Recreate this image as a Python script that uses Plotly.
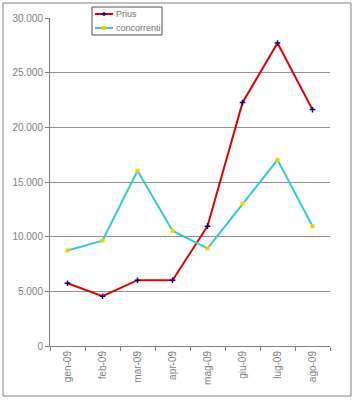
import plotly.graph_objects as go

months = ["gen-09", "feb-09", "mar-09", "apr-09", "mag-09", "giu-09", "lug-09", "ago-09"]
prius = [5740, 4550, 6020, 6020, 10960, 22260, 27720, 21620]
concorrenti = [8740, 9630, 16030, 10540, 8930, 13020, 17030, 10960]
y_ticks = [0, 5000, 10000, 15000, 20000, 25000, 30000]
series_names = ["Prius", "concorrenti"]

W, H = 354, 400
L, R, T, B = 50, 24, 18, 54
pw, ph = W - L - R, H - T - B

RED, CYAN, NAVY, GOLD = "#DD0000", "#33CCCC", "#000080", "#FFCC00"

def px(x):
    return (x - L) / pw

def py(y):
    return (H - B - y) / ph

fig = go.Figure()
fig.add_trace(go.Scatter(
    x=months, y=prius, name=series_names[0], mode="lines+markers",
    line=dict(color=RED, width=2),
    marker=dict(symbol="cross-thin", size=4, color=NAVY,
                line=dict(color=NAVY, width=1.5)),
    showlegend=False,
))
fig.add_trace(go.Scatter(
    x=months, y=concorrenti, name=series_names[1], mode="lines+markers",
    line=dict(color=CYAN, width=2),
    marker=dict(symbol="square", size=4, color=GOLD),
    showlegend=False,
))

shapes = [dict(
    type="rect", xref="paper", yref="paper",
    x0=px(3), x1=px(351), y0=py(396), y1=py(3),
    line=dict(color="#808080", width=1), fillcolor="rgba(0,0,0,0)",
    layer="below",
)]
# custom legend box
shapes.append(dict(type="rect", xref="paper", yref="paper",
                   x0=px(92), x1=px(162), y0=py(35), y1=py(7),
                   line=dict(color="#505050", width=1), fillcolor="white"))
annotations = []
for i, (name, lc, mc) in enumerate(zip(series_names, [RED, CYAN], [NAVY, GOLD])):
    yy = 14 + i * 14
    shapes.append(dict(type="line", xref="paper", yref="paper",
                       x0=px(95), x1=px(113), y0=py(yy), y1=py(yy),
                       line=dict(color=lc, width=2)))
    if i == 0:
        shapes.append(dict(type="line", xref="paper", yref="paper",
                           x0=px(102), x1=px(106), y0=py(yy), y1=py(yy),
                           line=dict(color=mc, width=1.5)))
        shapes.append(dict(type="line", xref="paper", yref="paper",
                           x0=px(104), x1=px(104), y0=py(yy - 2), y1=py(yy + 2),
                           line=dict(color=mc, width=1.5)))
    else:
        shapes.append(dict(type="rect", xref="paper", yref="paper",
                           x0=px(102), x1=px(106), y0=py(yy + 2), y1=py(yy - 2),
                           line=dict(width=0), fillcolor=mc))
    annotations.append(dict(xref="paper", yref="paper", x=px(114), y=py(yy),
                            xanchor="left", yanchor="middle", showarrow=False,
                            text=name, font=dict(size=9, color="#707070")))

fig.update_layout(
    width=W, height=H,
    margin=dict(l=L, r=R, t=T, b=B),
    paper_bgcolor="white", plot_bgcolor="white",
    separators=",.",
    font=dict(family="Liberation Sans, Arial, sans-serif", size=10, color="#808080"),
    showlegend=False,
    xaxis=dict(
        type="category", categoryorder="array", categoryarray=months,
        showgrid=False, showline=True, linecolor="#808080", linewidth=1,
        ticks="outside", tickson="boundaries", ticklen=4, tickcolor="#808080",
        tickangle=-90, tickfont=dict(size=10, color="#808080"),
        range=[-0.5, 7.5], zeroline=False,
    ),
    yaxis=dict(
        range=[0, 30000], tickvals=y_ticks, tickformat=",d",
        showgrid=True, gridcolor="#909090", gridwidth=1,
        showline=True, linecolor="#808080", linewidth=1,
        ticks="outside", ticklen=4, tickcolor="#808080",
        tickfont=dict(size=10, color="#808080"), zeroline=False,
    ),
    shapes=shapes,
    annotations=annotations,
)

fig.write_html("out.html")
